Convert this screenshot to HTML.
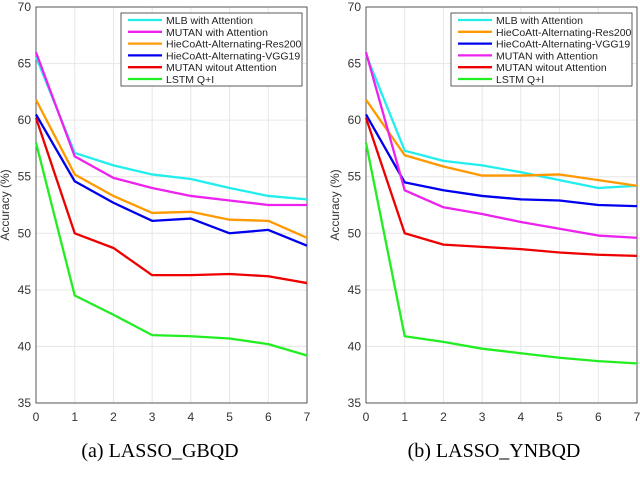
<!DOCTYPE html>
<html><head><meta charset="utf-8"><style>
body{margin:0;background:#fff;width:640px;height:495px;overflow:hidden}
svg text{font-family:"Liberation Sans",sans-serif}
.cap{font-family:"Liberation Serif",serif;font-size:20px;fill:#000}
</style></head><body>
<svg id="svg" width="640" height="495">
<text class="cap" x="160" y="457" text-anchor="middle">(a) LASSO_GBQD</text>
<text class="cap" x="494" y="457" text-anchor="middle">(b) LASSO_YNBQD</text>
</svg>
<script>
const xTicks=[0,1,2,3,4,5,6,7];
const yTicks=[35,40,45,50,55,60,65,70];
const namesA=["MLB with Attention","MUTAN with Attention","HieCoAtt-Alternating-Res200","HieCoAtt-Alternating-VGG19","MUTAN witout Attention","LSTM Q+I"];
const colorsA=["#22eeee","#ee22ee","#ff9900","#0000ee","#ee0000","#22ee22"];
const a_mlb=[65.6,57.1,56.0,55.2,54.8,54.0,53.3,53.0];
const a_mutan=[66,56.8,54.9,54.0,53.3,52.9,52.5,52.5];
const a_res=[61.8,55.2,53.3,51.8,51.9,51.2,51.1,49.6];
const a_vgg=[60.5,54.6,52.7,51.1,51.3,50.0,50.3,48.9];
const a_mno=[60.2,50.0,48.7,46.3,46.3,46.4,46.2,45.6];
const a_lstm=[58,44.5,42.8,41.0,40.9,40.7,40.2,39.2];
const namesB=["MLB with Attention","HieCoAtt-Alternating-Res200","HieCoAtt-Alternating-VGG19","MUTAN with Attention","MUTAN witout Attention","LSTM Q+I"];
const colorsB=["#22eeee","#ff9900","#0000ee","#ee22ee","#ee0000","#22ee22"];
const b_mlb=[65.8,57.3,56.4,56.0,55.4,54.7,54.0,54.2];
const b_res=[61.8,56.9,55.9,55.1,55.1,55.2,54.7,54.2];
const b_vgg=[60.5,54.5,53.8,53.3,53.0,52.9,52.5,52.4];
const b_mutan=[66,53.8,52.3,51.7,51.0,50.4,49.8,49.6];
const b_mno=[60.2,50.0,49.0,48.8,48.6,48.3,48.1,48.0];
const b_lstm=[58,40.9,40.4,39.8,39.4,39.0,38.7,38.5];
const NS="http://www.w3.org/2000/svg",svg=document.getElementById('svg');
function mk(t,a,p){const e=document.createElementNS(NS,t);for(const k in a)e.setAttribute(k,a[k]);(p||svg).appendChild(e);return e;}
function panel(id,x0,x1,names,colors,series){
 const y0=7,y1=403;
 const g=mk('g',{});
 
 
 const sx=v=>x0+(v-0)/7*(x1-x0), sy=v=>y1-(v-35)/35*(y1-y0);
 mk('rect',{x:x0,y:y0,width:x1-x0,height:y1-y0,fill:'#fff',stroke:'none'},g);
 xTicks.forEach(t=>{mk('line',{x1:sx(t),x2:sx(t),y1:y0,y2:y1,stroke:'#e6e6e6'},g);
  const tx=mk('text',{x:sx(t),y:y1+18,'text-anchor':'middle','font-size':12,fill:'#333'},g);tx.textContent=t;
  });
 yTicks.forEach(t=>{mk('line',{x1:x0,x2:x1,y1:sy(t),y2:sy(t),stroke:'#e6e6e6'},g);
  const tx=mk('text',{x:x0-5,y:sy(t)+4,'text-anchor':'end','font-size':12,fill:'#333'},g);tx.textContent=t;
  });
 mk('rect',{x:x0,y:y0,width:x1-x0,height:y1-y0,fill:'none',stroke:'#333','stroke-width':0.8},g);
 const yl=mk('text',{x:0,y:0,transform:`translate(${x0-27},${(y0+y1)/2}) rotate(-90)`,'text-anchor':'middle','font-size':12,fill:'#333'},g);
 yl.textContent='Accuracy (%)';
 
 series.forEach((s,i)=>{const p=mk('polyline',{points:s.map((v,j)=>sx(xTicks[j])+','+sy(v)).join(' '),fill:'none',stroke:colors[i],'stroke-width':2.3,'stroke-linejoin':'round'},g);
  });
 const lx=x0+85,ly=13;
 const lg=mk('g',{},g);
 
 mk('rect',{x:lx,y:ly,width:x1-5-lx,height:73,fill:'#fff',stroke:'#333','stroke-width':0.8},lg);
 names.forEach((n,i)=>{const yy=ly+7+i*11.8;
  mk('line',{x1:lx+7,x2:lx+41,y1:yy,y2:yy,stroke:colors[i],'stroke-width':2.3},lg);
  const t=mk('text',{x:lx+45,y:yy+4,'font-size':10.5,fill:'#222'},lg);t.textContent=n;
  });
}
panel('panel-gbqd',36,307,namesA,colorsA,[a_mlb,a_mutan,a_res,a_vgg,a_mno,a_lstm]);
panel('panel-ynbqd',366,637,namesB,colorsB,[b_mlb,b_res,b_vgg,b_mutan,b_mno,b_lstm]);
</script>
</body></html>
